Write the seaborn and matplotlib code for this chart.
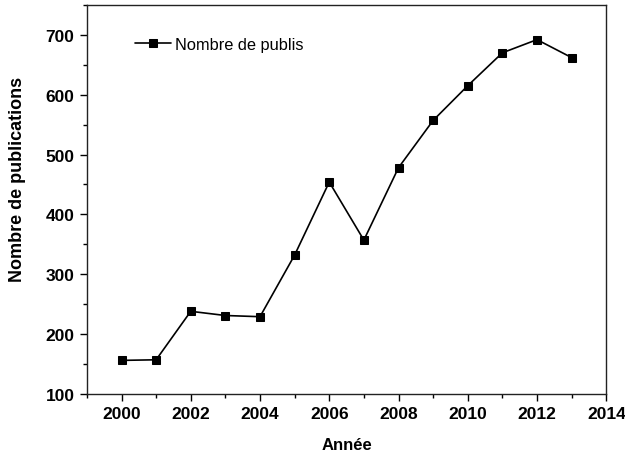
import pandas as pd
import matplotlib
matplotlib.use("Agg")
import matplotlib.pyplot as plt
from matplotlib.ticker import MultipleLocator
import seaborn as sns

# Values
years = [2000, 2001, 2002, 2003, 2004, 2005, 2006, 2007, 2008, 2009, 2010, 2011, 2012, 2013]
publis = [156, 157, 238, 231, 229, 332, 454, 357, 478, 557, 615, 670, 692, 662]
series_label = "Nombre de publis"

df = pd.DataFrame({"Année": years, "Nombre de publications": publis})

sns.set_style("ticks")
plt.rcParams["font.family"] = ["Liberation Sans", "DejaVu Sans"]
plt.rcParams["text.color"] = "black"
plt.rcParams["axes.labelcolor"] = "black"
plt.rcParams["xtick.color"] = "black"
plt.rcParams["ytick.color"] = "black"

fig = plt.figure(figsize=(6.25, 4.56), dpi=100)
ax = fig.add_axes([0.139, 0.134, 0.831, 0.853])

sns.lineplot(data=df, x="Année", y="Nombre de publications", ax=ax,
             color="black", linewidth=1.2, marker="s", markersize=5.5,
             markeredgecolor="black", label=series_label)

ax.set_xlim(1999, 2014)
ax.set_ylim(100, 750)
ax.xaxis.set_major_locator(MultipleLocator(2))
ax.xaxis.set_minor_locator(MultipleLocator(1))
ax.yaxis.set_major_locator(MultipleLocator(100))
ax.yaxis.set_minor_locator(MultipleLocator(50))

for side in ["top", "right", "left", "bottom"]:
    ax.spines[side].set_visible(True)
    ax.spines[side].set_linewidth(1.0)
    ax.spines[side].set_color("#222222")

ax.tick_params(which="major", direction="out", length=5, width=1.0,
               labelsize=12.5, top=False, right=False, pad=4)
ax.tick_params(which="minor", direction="out", length=3, width=1.0,
               top=False, right=False)
for lbl in ax.get_xticklabels() + ax.get_yticklabels():
    lbl.set_fontweight("bold")

ax.set_xlabel("Année", fontsize=12, fontweight="bold", labelpad=11)
ax.set_ylabel("Nombre de publications", fontsize=13, fontweight="bold")
# label sits a bit above the axes centre in the original
ax.yaxis.set_label_coords(-0.118, 0.553)

ax.legend(loc="upper left", frameon=False, fontsize=11.8,
          bbox_to_anchor=(0.065, 0.955), handlelength=2.2, handletextpad=0.2)

fig.savefig("out.png", dpi=100)
